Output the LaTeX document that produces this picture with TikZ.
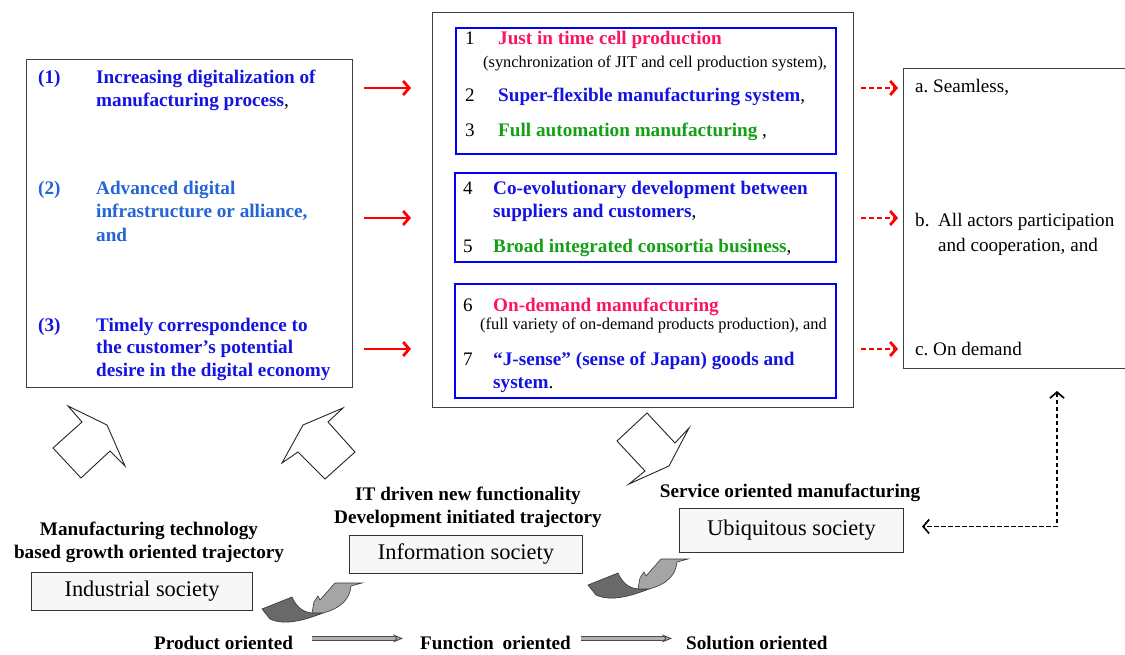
\documentclass[tikz,border=0pt]{standalone}
\usepackage{fontspec}
\setmainfont{Liberation Serif}
\usetikzlibrary{arrows.meta, positioning, calc}

\definecolor{itemblue}{RGB}{20,20,225}
\definecolor{itemsky}{RGB}{35,100,215}
\definecolor{itempink}{RGB}{250,20,100}
\definecolor{itemgreen}{RGB}{20,160,20}
\definecolor{darkfold}{RGB}{105,105,105}
\definecolor{lightfold}{RGB}{165,165,165}

\newcommand{\itemfont}{\fontsize{19.2}{23}\selectfont\bfseries}
\newcommand{\plainfont}{\fontsize{19.1}{23}\selectfont}
\newcommand{\notefont}{\fontsize{16.4}{19}\selectfont}
\newcommand{\socfont}{\fontsize{22.4}{26}\selectfont}
\newcommand{\blk}[1]{\textcolor{black}{\mdseries #1}}

\begin{document}
\begin{tikzpicture}[x=1pt, y=-1pt,
    txt/.style={anchor=base west, inner sep=0pt},
    ctxt/.style={anchor=base, inner sep=0pt, font=\itemfont},
    frame/.style={draw=black!75, line width=1.2pt, anchor=north west, inner sep=0pt},
    bluebox/.style={draw=blue, line width=2.4pt, anchor=north west, inner sep=0pt},
    socbox/.style={draw=black!80, line width=1pt, fill=black!3, anchor=north west, font=\socfont},
    redarr/.style={draw=red, line width=2.8pt, -{Straight Barb[length=6pt,width=14pt]}},
    reddash/.style={redarr, dash pattern=on 5pt off 3pt},
    hollow/.style={draw=black!85, line width=0.9pt, fill=white},
    flowarr/.style={draw=black!70, double=black!30, double distance=2.6pt, line width=0.9pt,
        -{Stealth[length=10pt, width=8pt, fill=black!30]}},
    linkarr/.style={draw=black, line width=1.7pt, dash pattern=on 4.5pt off 2.5pt,
        {Straight Barb[length=6pt,width=14pt]}-{Straight Barb[length=6pt,width=14pt]}}]
    \useasboundingbox (0,0) rectangle (1125,655);

    % frames
    \node[frame, minimum width=326pt, minimum height=328pt] (lbox) at (26,59) {};
    \node[frame, minimum width=421pt, minimum height=395pt] (mid) at (432,12) {};
    \node[frame, minimum width=222pt, minimum height=300pt] (rbox) at (903,68) {};
    \node[bluebox, minimum width=380pt, minimum height=126pt] (grp1) at (455,27) {};
    \node[bluebox, minimum width=381pt, minimum height=89pt] (grp2) at (454,172) {};
    \node[bluebox, minimum width=381pt, minimum height=114pt] (grp3) at (454,283) {};

    % left box: drivers
    \node[txt, font=\itemfont, text=itemblue] (d1) at (38,84) {(1)};
    \node[txt, font=\itemfont, text=itemblue] (d1a) at (96,84) {Increasing digitalization of};
    \node[txt, font=\itemfont, text=itemblue] (d1b) at (96,107) {manufacturing process\blk{,}};
    \node[txt, font=\itemfont, text=itemsky] (d2) at (38,195) {(2)};
    \node[txt, font=\itemfont, text=itemsky] (d2a) at (96,195) {Advanced digital};
    \node[txt, font=\itemfont, text=itemsky] (d2b) at (96,218) {infrastructure or alliance,};
    \node[txt, font=\itemfont, text=itemsky] (d2c) at (96,242) {and};
    \node[txt, font=\itemfont, text=itemblue] (d3) at (38,331) {(3)};
    \node[txt, font=\itemfont, text=itemblue] (d3a) at (96,331) {Timely correspondence to};
    \node[txt, font=\itemfont, text=itemblue] (d3b) at (96,353) {the customer’s potential};
    \node[txt, font=\itemfont, text=itemblue] (d3c) at (96,376) {desire in the digital economy};

    % middle box: items 1-7
    \node[txt, font=\plainfont] (k1) at (465,45) {1};
    \node[txt, font=\itemfont, text=itempink] (m1) at (498,45) {Just in time cell production};
    \node[txt, font=\notefont] (m1n) at (483,68) {(synchronization of JIT and cell production system),};
    \node[txt, font=\plainfont] (k2) at (465,102) {2};
    \node[txt, font=\itemfont, text=itemblue] (m2) at (498,102) {Super-flexible manufacturing system\blk{,}};
    \node[txt, font=\plainfont] (k3) at (465,137) {3};
    \node[txt, font=\itemfont, text=itemgreen] (m3) at (498,137) {Full automation manufacturing\blk{ ,}};
    \node[txt, font=\plainfont] (k4) at (463,195) {4};
    \node[txt, font=\itemfont, text=itemblue] (m4) at (493,195) {Co-evolutionary development between};
    \node[txt, font=\itemfont, text=itemblue] (m4b) at (493,218) {suppliers and customers\blk{,}};
    \node[txt, font=\plainfont] (k5) at (463,253) {5};
    \node[txt, font=\itemfont, text=itemgreen] (m5) at (493,253) {Broad integrated consortia business\blk{,}};
    \node[txt, font=\plainfont] (k6) at (463,311) {6};
    \node[txt, font=\itemfont, text=itempink] (m6) at (493,311) {On-demand manufacturing};
    \node[txt, font=\notefont] (m6n) at (480,330) {(full variety of on-demand products production), and};
    \node[txt, font=\plainfont] (k7) at (463,365) {7};
    \node[txt, font=\itemfont, text=itemblue] (m7) at (493,365) {“J-sense” (sense of Japan) goods and};
    \node[txt, font=\itemfont, text=itemblue] (m7b) at (493,388) {system\blk{.}};

    % right box: outcomes
    \node[txt, font=\plainfont] (ra) at (915,93) {a.\ Seamless,};
    \node[txt, font=\plainfont] (rb) at (915,227) {b.};
    \node[txt, font=\plainfont] (rb1) at (938,227) {All actors participation};
    \node[txt, font=\plainfont] (rb2) at (938,252) {and cooperation, and};
    \node[txt, font=\plainfont] (rc) at (915,355) {c.\ On demand};

    \foreach \y in {88,218,349} {
        \draw[redarr] ($(lbox.east |- 0,\y)+(11,0)$) -- ($(mid.west |- 0,\y)+(-21,0)$);
        \draw[reddash] ($(mid.east |- 0,\y)+(7,0)$) -- ($(rbox.west |- 0,\y)+(-5,0)$);
    }

    % block arrows
    \draw[hollow] (68,406) -- (107,425) -- (125,466) -- (110,451) -- (81,478) -- (53,448) -- (82,422) -- cycle;
    \draw[hollow] (343,408) -- (328,422) -- (355,452) -- (325,479) -- (298,452) -- (282,463) -- (303,425) -- cycle;
    \draw[hollow] (647,413) -- (675,443) -- (689,428) -- (669,466) -- (629,484) -- (645,471) -- (617,441) -- cycle;

    % societies
    \node[ctxt] (tr1a) at (149,535) {Manufacturing technology};
    \node[ctxt] (tr1b) at (149,558) {based growth oriented trajectory};
    \node[socbox, minimum width=221pt, minimum height=38pt] (ind) at (31,572) {Industrial society};
    \node[ctxt] (tr2a) at (468,500) {IT driven new functionality};
    \node[ctxt] (tr2b) at (468,523) {Development initiated trajectory};
    \node[socbox, minimum width=233pt, minimum height=38pt] (inf) at (349,535) {Information society};
    \node[ctxt] (tr3) at (790,497) {Service oriented manufacturing};
    \node[socbox, minimum width=224pt, minimum height=44pt] (ubi) at (679,508) {Ubiquitous society};

    % folded ribbons
    \foreach \dx/\dy in {0/0, 326/-24} {
        \begin{scope}[shift={(\dx,\dy)}]
            \filldraw[draw=black!80, fill=darkfold, line width=0.6pt] (262,609) -- (292,597)
                .. controls (296,606) and (302,612) .. (312,613) -- (323,613)
                .. controls (305,620) and (285,626) .. (270,619) -- cycle;
            \filldraw[draw=black!80, fill=lightfold, line width=0.6pt] (312,613) -- (314,602) -- (318,596)
                -- (320,600) -- (335,583) -- (362,583) -- (351,586)
                .. controls (350,598) and (342,608) .. (323,613) -- cycle;
        \end{scope}
    }

    % bottom row
    \node[txt, font=\itemfont] (prod) at (154,649) {Product oriented};
    \node[txt, font=\itemfont] (func) at (420,649) {Function\hspace{4pt} oriented};
    \node[txt, font=\itemfont] (sol) at (686,649) {Solution oriented};
    \draw[flowarr] ([xshift=19pt, yshift=4pt]prod.east) -- ([xshift=-17pt, yshift=4pt]func.west);
    \draw[flowarr] ([xshift=10pt, yshift=4pt]func.east) -- ([xshift=-14pt, yshift=4pt]sol.west);

    % feedback link
    \coordinate (fb) at (1057,391);
    \draw[linkarr] (fb) |- ([xshift=18pt, yshift=4pt]ubi.east);
\end{tikzpicture}
\end{document}
